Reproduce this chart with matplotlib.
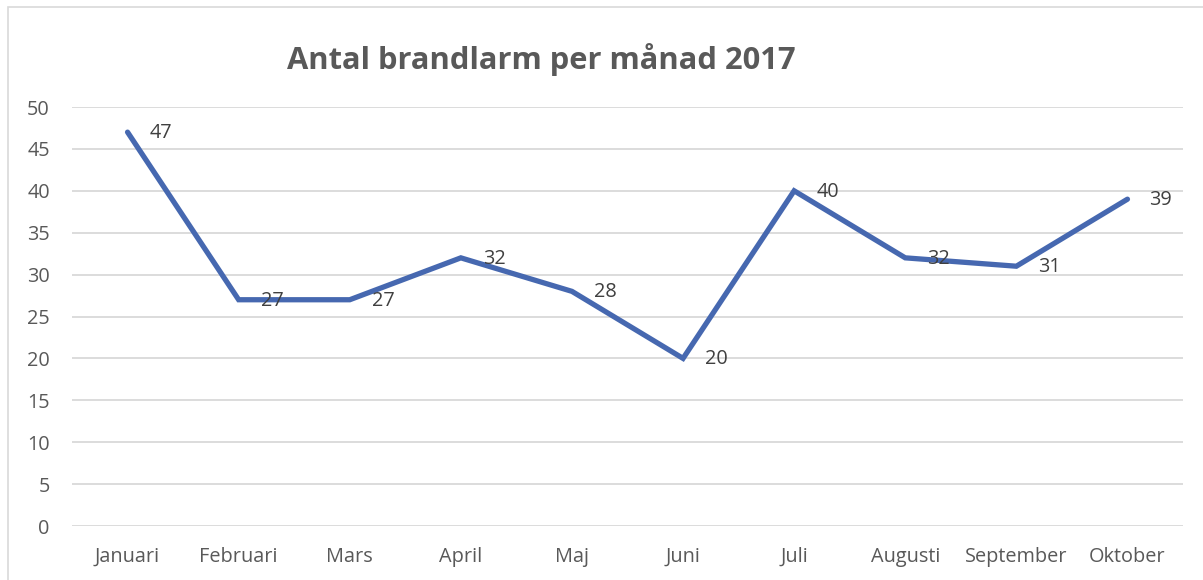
import matplotlib
matplotlib.use("Agg")
import matplotlib.pyplot as plt
from matplotlib.patches import Rectangle

plt.rcParams['font.family'] = ['Open Sans', 'DejaVu Sans']

# data
months = ['Januari', 'Februari', 'Mars', 'April', 'Maj', 'Juni',
          'Juli', 'Augusti', 'September', 'Oktober']
alarms = [47, 27, 27, 32, 28, 20, 40, 32, 31, 39]
yticks = list(range(0, 55, 5))

W, H = 1203, 580
fig = plt.figure(figsize=(W / 100, H / 100), dpi=100)

# chart frame (left/top edges visible, rest cropped)
fig.patches.append(Rectangle((8 / W, -0.05), 1.2, (H - 7) / H + 0.05,
                             transform=fig.transFigure, fill=False,
                             edgecolor='#d9d9d9', linewidth=1.2))

ax = fig.add_axes([72 / W, 54 / H, (1183 - 72) / W, (526 - 107) / H])
x = list(range(len(months)))
ax.plot(x, alarms, color='#4668B0', linewidth=3.8, solid_capstyle='round',
        solid_joinstyle='miter', zorder=3)

for xi, v in zip(x, alarms):
    ax.annotate(str(v), (xi, v), xytext=(22, -1), textcoords='offset pixels',
                ha='left', va='center', fontsize=14.3, color='#404040', zorder=4)

ax.set_xlim(-0.5, len(months) - 0.5)
ax.set_ylim(0, 50)
ax.set_yticks(yticks)
ax.set_xticks(x)
ax.set_xticklabels(months)
ax.grid(axis='y', color='#d9d9d9', linewidth=1.3)
ax.set_axisbelow(True)
for s in ax.spines.values():
    s.set_visible(False)
ax.tick_params(axis='both', length=0, labelsize=14.3, labelcolor='#595959')
ax.tick_params(axis='y', pad=16)
ax.tick_params(axis='x', pad=15)

fig.text(541 / W, 1 - 59 / H, 'Antal brandlarm per månad 2017', ha='center',
         va='center', fontsize=22.2, fontweight='bold', color='#595959')

fig.savefig('out.png', dpi=100)
